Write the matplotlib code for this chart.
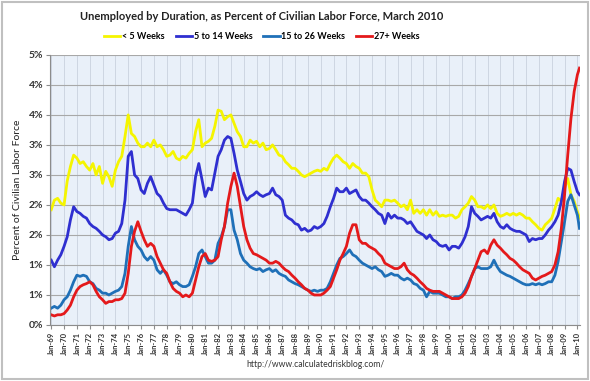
import pandas as pd
import matplotlib
matplotlib.use('Agg')
import matplotlib.pyplot as plt
import matplotlib.dates as mdates
from matplotlib.patches import Rectangle

# quarterly readings (Jan, Apr, Jul, Oct) 1969-2009, then Jan 2010 and Mar 2010
dates = list(pd.date_range('1969-01-01', '2010-01-01', freq='QS')) + [pd.Timestamp('2010-03-01')]

lt5 = [1.92, 2.08, 2.11, 2.03, 2.00, 2.40, 2.64, 2.83, 2.78, 2.69, 2.72, 2.64,
       2.58, 2.69, 2.50, 2.64, 2.36, 2.56, 2.47, 2.31, 2.58, 2.72, 2.81, 3.14,
       3.50, 3.19, 3.14, 3.03, 2.97, 2.97, 3.03, 2.97, 3.08, 2.97, 3.00, 2.92,
       2.81, 2.83, 2.89, 2.78, 2.75, 2.81, 2.78, 2.86, 2.92, 3.22, 3.42, 2.97,
       3.03, 3.06, 3.11, 3.31, 3.58, 3.56, 3.42, 3.47, 3.50, 3.36, 3.22, 3.14,
       2.97, 2.97, 3.08, 3.03, 3.06, 2.97, 3.03, 2.92, 2.94, 3.00, 2.92, 2.83,
       2.81, 2.72, 2.67, 2.61, 2.61, 2.56, 2.50, 2.47, 2.50, 2.53, 2.56, 2.58,
       2.56, 2.61, 2.58, 2.69, 2.78, 2.83, 2.78, 2.72, 2.69, 2.61, 2.69, 2.64,
       2.61, 2.53, 2.53, 2.47, 2.25, 2.08, 2.03, 1.97, 2.08, 2.08, 2.06, 2.08,
       2.03, 1.97, 2.00, 1.92, 2.08, 1.86, 1.92, 1.86, 1.92, 1.83, 1.92, 1.83,
       1.89, 1.81, 1.83, 1.81, 1.83, 1.83, 1.78, 1.81, 1.92, 1.97, 2.03, 2.14,
       2.08, 1.97, 1.97, 1.94, 2.00, 1.94, 2.00, 1.86, 1.81, 1.83, 1.86, 1.83,
       1.86, 1.83, 1.86, 1.83, 1.78, 1.78, 1.72, 1.67, 1.61, 1.58, 1.67, 1.72,
       1.78, 1.94, 2.11, 2.06, 2.28, 2.44, 2.17, 2.06, 1.89, 1.78]

w5_14 = [1.08, 0.97, 1.08, 1.17, 1.31, 1.47, 1.75, 1.97, 1.89, 1.86, 1.81, 1.78,
         1.69, 1.64, 1.61, 1.56, 1.50, 1.47, 1.42, 1.44, 1.53, 1.56, 1.69, 2.08,
         2.81, 2.89, 2.50, 2.44, 2.25, 2.19, 2.36, 2.47, 2.33, 2.19, 2.14, 2.03,
         1.94, 1.92, 1.92, 1.92, 1.89, 1.86, 1.83, 1.92, 2.03, 2.47, 2.69, 2.42,
         2.14, 2.28, 2.25, 2.53, 2.81, 2.92, 3.08, 3.14, 3.11, 2.86, 2.58, 2.39,
         2.19, 2.08, 2.14, 2.17, 2.22, 2.17, 2.14, 2.17, 2.19, 2.28, 2.17, 2.14,
         2.08, 1.83, 1.78, 1.75, 1.69, 1.67, 1.58, 1.61, 1.56, 1.58, 1.64, 1.61,
         1.64, 1.69, 1.81, 1.97, 2.11, 2.28, 2.22, 2.22, 2.28, 2.19, 2.22, 2.25,
         2.14, 2.08, 2.08, 2.03, 1.97, 1.92, 1.86, 1.83, 1.69, 1.86, 1.78, 1.83,
         1.78, 1.78, 1.75, 1.69, 1.72, 1.64, 1.56, 1.53, 1.50, 1.44, 1.50, 1.42,
         1.39, 1.33, 1.31, 1.33, 1.25, 1.31, 1.31, 1.28, 1.36, 1.47, 1.64, 1.97,
         1.86, 1.81, 1.75, 1.78, 1.81, 1.78, 1.86, 1.72, 1.64, 1.61, 1.67, 1.61,
         1.58, 1.56, 1.56, 1.53, 1.50, 1.39, 1.44, 1.42, 1.44, 1.44, 1.50, 1.58,
         1.64, 1.72, 1.83, 2.06, 2.39, 2.61, 2.58, 2.39, 2.22, 2.17]

w15_26 = [0.28, 0.31, 0.28, 0.33, 0.42, 0.47, 0.58, 0.72, 0.83, 0.81, 0.83, 0.81,
          0.72, 0.69, 0.61, 0.58, 0.53, 0.53, 0.50, 0.53, 0.56, 0.58, 0.64, 0.86,
          1.31, 1.64, 1.42, 1.31, 1.25, 1.14, 1.08, 1.14, 1.08, 0.92, 0.86, 0.92,
          0.83, 0.72, 0.69, 0.72, 0.67, 0.64, 0.64, 0.67, 0.81, 0.97, 1.19, 1.25,
          1.14, 1.03, 1.03, 1.08, 1.36, 1.47, 1.64, 1.92, 1.92, 1.58, 1.42, 1.19,
          1.08, 1.03, 0.97, 0.94, 0.92, 0.94, 0.89, 0.92, 0.94, 0.89, 0.92, 0.86,
          0.83, 0.81, 0.75, 0.72, 0.69, 0.67, 0.64, 0.61, 0.58, 0.56, 0.58, 0.56,
          0.58, 0.58, 0.61, 0.72, 0.86, 1.00, 1.11, 1.14, 1.19, 1.25, 1.17, 1.14,
          1.08, 1.03, 1.00, 0.97, 0.94, 0.97, 0.92, 0.89, 0.81, 0.83, 0.86, 0.83,
          0.83, 0.78, 0.75, 0.78, 0.75, 0.69, 0.67, 0.61, 0.58, 0.47, 0.56, 0.53,
          0.53, 0.53, 0.50, 0.47, 0.47, 0.44, 0.47, 0.47, 0.50, 0.58, 0.69, 0.81,
          0.94, 0.97, 0.94, 0.94, 0.94, 0.97, 1.08, 0.97, 0.89, 0.86, 0.83, 0.81,
          0.78, 0.75, 0.72, 0.69, 0.67, 0.67, 0.69, 0.67, 0.69, 0.67, 0.69, 0.72,
          0.72, 0.83, 1.06, 1.39, 1.72, 2.06, 2.17, 2.00, 1.83, 1.61]

w27 = [0.17, 0.15, 0.17, 0.17, 0.19, 0.25, 0.33, 0.47, 0.58, 0.64, 0.67, 0.69,
       0.72, 0.67, 0.56, 0.47, 0.42, 0.36, 0.39, 0.39, 0.42, 0.42, 0.44, 0.53,
       0.86, 1.31, 1.56, 1.72, 1.56, 1.42, 1.31, 1.36, 1.31, 1.14, 1.03, 0.92,
       0.86, 0.72, 0.61, 0.56, 0.53, 0.47, 0.50, 0.47, 0.53, 0.75, 0.97, 1.14,
       1.19, 1.08, 1.06, 1.08, 1.14, 1.42, 1.64, 2.03, 2.31, 2.53, 2.31, 1.97,
       1.64, 1.42, 1.28, 1.19, 1.17, 1.14, 1.11, 1.08, 1.03, 1.03, 1.06, 1.03,
       0.97, 0.92, 0.89, 0.83, 0.78, 0.72, 0.67, 0.61, 0.58, 0.53, 0.50, 0.50,
       0.50, 0.53, 0.58, 0.64, 0.78, 0.92, 1.08, 1.19, 1.31, 1.53, 1.67, 1.67,
       1.42, 1.36, 1.36, 1.31, 1.28, 1.25, 1.19, 1.14, 1.03, 1.00, 0.97, 0.94,
       0.94, 0.97, 1.03, 0.92, 0.86, 0.83, 0.78, 0.72, 0.67, 0.61, 0.58, 0.56,
       0.56, 0.56, 0.53, 0.50, 0.47, 0.44, 0.44, 0.44, 0.47, 0.53, 0.64, 0.81,
       0.94, 1.08, 1.22, 1.25, 1.19, 1.33, 1.42, 1.33, 1.28, 1.22, 1.17, 1.11,
       1.08, 1.03, 0.97, 0.92, 0.89, 0.86, 0.78, 0.75, 0.78, 0.81, 0.83, 0.86,
       0.89, 1.00, 1.22, 1.61, 2.17, 2.83, 3.44, 3.89, 4.17, 4.28]

series = [('< 5 Weeks', lt5, '#f5f500'),
          ('5 to 14 Weeks', w5_14, '#2f2fd0'),
          ('15 to 26 Weeks', w15_26, '#1f70b8'),
          ('27+ Weeks', w27, '#e4191b')]

y_ticks = [0, 0.5, 1.0, 1.5, 2.0, 2.5, 3.0, 3.5, 4.0, 4.5]
y_labels = ['0%', '1%', '1%', '2%', '2%', '3%', '3%', '4%', '4%', '5%']

plt.rcParams['font.family'] = ['Lato', 'DejaVu Sans']

fig = plt.figure(figsize=(5.9, 3.81), dpi=100)
fig.patches.append(Rectangle((0.004, 0.005), 0.992, 0.99, transform=fig.transFigure,
                             fill=False, edgecolor='#c0c0c0', linewidth=1.5))
ax = fig.add_axes([0.085, 0.147, 0.898, 0.709])
ax.set_facecolor('#e9f0f9')

for name, vals, col in series:
    ax.plot(dates, vals, color=col, linewidth=2.0, label=name, solid_joinstyle='round')

ax.set_xlim(pd.Timestamp('1968-12-01'), pd.Timestamp('2010-03-15'))
ax.set_ylim(0, 4.5)
ax.set_yticks(y_ticks)
ax.set_yticklabels(y_labels, fontsize=7.5, fontweight='bold', color='#333333')

ax.xaxis.set_major_locator(mdates.YearLocator(1, month=1, day=1))
ax.xaxis.set_major_formatter(mdates.DateFormatter('%b-%y'))
plt.setp(ax.get_xticklabels(), rotation=90, fontsize=5.5, fontweight='bold', color='#333333')

ax.grid(True, axis='y', color='#a8a8a8', linewidth=0.8)
ax.grid(True, axis='x', color='#c9d2de', linewidth=0.6)
ax.set_axisbelow(True)
for s in ['top', 'right']:
    ax.spines[s].set_visible(False)
for s in ['left', 'bottom']:
    ax.spines[s].set_color('#8c8c8c')
ax.tick_params(axis='both', direction='out', length=3, color='#8c8c8c', pad=2)

ax.set_ylabel('Percent of Civilian Labor Force', fontsize=7.5, color='#222222', labelpad=5)

fig.text(0.444, 0.958, 'Unemployed by Duration, as Percent of Civilian Labor Force, March 2010',
         ha='center', va='center', fontsize=8.0, fontweight='bold', color='#222222')
fig.legend(loc='center', bbox_to_anchor=(0.444, 0.905), ncol=4, frameon=False,
           prop={'size': 6.5, 'weight': 'bold'}, handlelength=1.8, handletextpad=0.2,
           columnspacing=1.2)
fig.text(0.534, 0.042, 'http://www.calculatedriskblog.com/', ha='center', va='center',
         fontsize=6.2, color='#333333')

plt.savefig('out.png', dpi=100)
plt.close()
